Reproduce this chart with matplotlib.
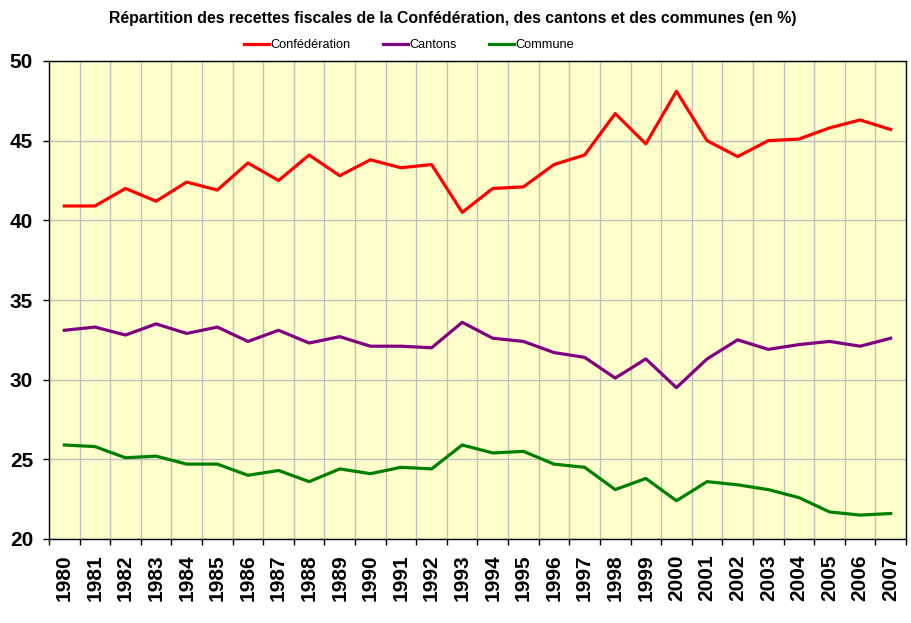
import matplotlib
matplotlib.use("Agg")
import matplotlib.pyplot as plt
import numpy as np

plt.rcParams['font.family'] = ['Liberation Sans', 'DejaVu Sans']

years = [str(y) for y in range(1980, 2008)]
confederation = [40.9, 40.9, 42.0, 41.2, 42.4, 41.9, 43.6, 42.5, 44.1, 42.8,
                 43.8, 43.3, 43.5, 40.5, 42.0, 42.1, 43.5, 44.1, 46.7, 44.8,
                 48.1, 45.0, 44.0, 45.0, 45.1, 45.8, 46.3, 45.7]
cantons = [33.1, 33.3, 32.8, 33.5, 32.9, 33.3, 32.4, 33.1, 32.3, 32.7,
           32.1, 32.1, 32.0, 33.6, 32.6, 32.4, 31.7, 31.4, 30.1, 31.3,
           29.5, 31.3, 32.5, 31.9, 32.2, 32.4, 32.1, 32.6]
commune = [25.9, 25.8, 25.1, 25.2, 24.7, 24.7, 24.0, 24.3, 23.6, 24.4,
           24.1, 24.5, 24.4, 25.9, 25.4, 25.5, 24.7, 24.5, 23.1, 23.8,
           22.4, 23.6, 23.4, 23.1, 22.6, 21.7, 21.5, 21.6]

fig = plt.figure(figsize=(9.11, 6.23), dpi=100)
ax = fig.add_axes([49/911, 84/623, 857/911, 478/623])
ax.set_facecolor('#FFFFCC')

x = np.arange(len(years))
ax.plot(x, confederation, color='#FF0000', lw=2.3, label='Confédération')
ax.plot(x, cantons, color='#800080', lw=2.3, label='Cantons')
ax.plot(x, commune, color='#008000', lw=2.3, label='Commune')

ax.set_xlim(-0.5, len(years) - 0.5)
ax.set_ylim(20, 50)
ax.set_yticks([20, 25, 30, 35, 40, 45, 50])
ax.set_xticks(x)
ax.set_xticklabels(years, rotation=90, fontsize=15, fontweight='bold')
ax.set_xticks(np.arange(-0.5, len(years)), minor=True)
ax.tick_params(axis='x', which='major', length=0, pad=11)
ax.tick_params(axis='x', which='minor', length=4.5, width=1, color='black')
ax.tick_params(axis='y', length=4.5, width=1, pad=7)
for lab in ax.get_yticklabels():
    lab.set_fontsize(15)
    lab.set_fontweight('bold')

ax.grid(axis='y', which='major', color='#C0C0C0', lw=1)
ax.grid(axis='x', which='minor', color='#C0C0C0', lw=1)
ax.set_axisbelow(True)
for s in ax.spines.values():
    s.set_color('black')
    s.set_linewidth(1)

fig.text(0.497, 1 - 19/623, 'Répartition des recettes fiscales de la Confédération, des cantons et des communes (en %)',
         ha='center', va='center', fontsize=11.4, fontweight='bold')
fig.legend(loc='center', bbox_to_anchor=(409/911, 1 - 45/623), ncol=3, frameon=False,
           fontsize=9.2, handlelength=2.0, handletextpad=0.1, columnspacing=2.5)

fig.savefig('out.png', dpi=100)
